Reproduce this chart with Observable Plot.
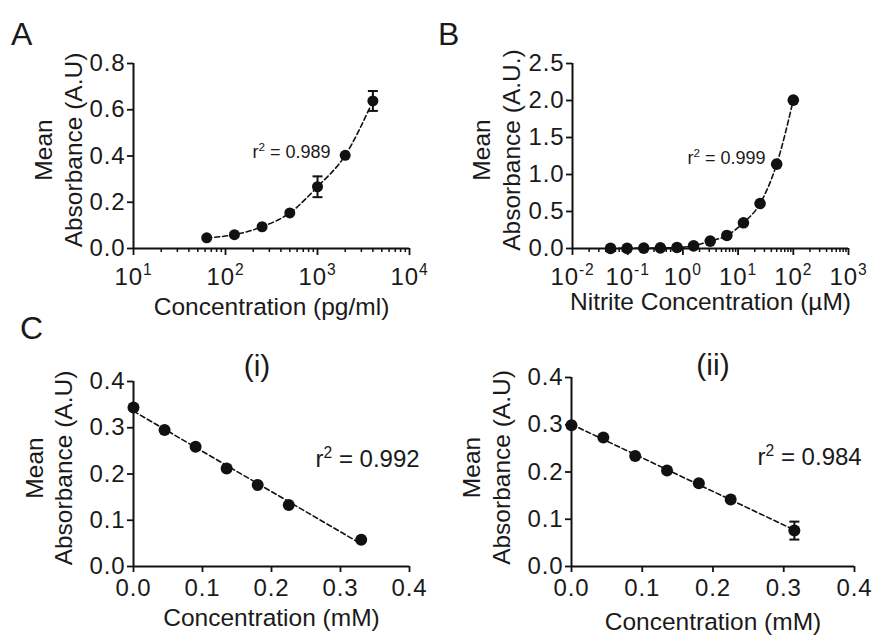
<!DOCTYPE html>
<html>
<head>
<meta charset="utf-8">
<script src="https://cdn.jsdelivr.net/npm/d3@7"></script>
<script src="https://cdn.jsdelivr.net/npm/@observablehq/plot@0.6"></script>
<style>
  body { margin: 0; background: #fff; font-family: "Liberation Sans", Arial, sans-serif; }
  #fig { position: relative; width: 874px; height: 635px; overflow: hidden; background: #fff; }
  .panel { position: absolute; }
  .letter { position: absolute; font-size: 32px; line-height: 1; color: #1a1a1a; }
  .sub { position: absolute; font-size: 30px; line-height: 1; color: #1a1a1a; transform: translateX(-50%); white-space: nowrap; }
  #fig g[aria-label$="tick label"] text { letter-spacing: 0.9px; }
</style>
</head>
<body>
<div id="fig"></div>
<script>
// ---------- Data ----------
// Panel A
const aConc = [62.5, 125, 250, 500, 1000, 2000, 4000];
const aAbs  = [0.046, 0.060, 0.094, 0.154, 0.267, 0.403, 0.638];
const aErr  = [0, 0, 0, 0, 0.045, 0, 0.043];
// Panel B
const bConc = [0.048828125, 0.09765625, 0.1953125, 0.390625, 0.78125, 1.5625, 3.125, 6.25, 12.5, 25, 50, 100];
const bAbs  = [0.002, 0.003, 0.005, 0.008, 0.014, 0.036, 0.100, 0.176, 0.347, 0.608, 1.14, 2.005];
// Panel C (i)
const c1Conc = [0, 0.045, 0.090, 0.135, 0.180, 0.225, 0.330];
const c1Abs  = [0.344, 0.295, 0.259, 0.212, 0.176, 0.133, 0.058];
// Panel C (ii)
const c2Conc = [0, 0.045, 0.090, 0.135, 0.180, 0.225, 0.315];
const c2Abs  = [0.299, 0.273, 0.234, 0.203, 0.176, 0.142, 0.076];
const c2Err  = [0, 0, 0, 0, 0, 0, 0.019];

// Tick values
const aXTicks = [10, 100, 1000, 10000];
const bXTicks = [0.01, 0.1, 1, 10, 100, 1000];
const aYTicks = [0, 0.2, 0.4, 0.6, 0.8];
const bYTicks = [0, 0.5, 1.0, 1.5, 2.0, 2.5];
const cXTicks = [0, 0.1, 0.2, 0.3, 0.4];
const cYTicks = [0, 0.1, 0.2, 0.3, 0.4];
const minorMultipliers = [2, 3, 4, 5, 6, 7, 8, 9];

// Texts
const aXLabel = "Concentration (pg/ml)";
const bXLabel = "Nitrite Concentration (µM)";
const cXLabel = "Concentration (mM)";
const aYLabel = "Mean\nAbsorbance (A.U)";
const bYLabel = "Mean\nAbsorbance (A.U.)";
const cYLabel = "Mean\nAbsorbance (A.U)";
const aR2 = "r^2 = 0.989";
const bR2 = "r^2 = 0.999";
const c1R2 = "r^2 = 0.992";
const c2R2 = "r^2 = 0.984";

// ---------- Helpers ----------
const INK = "#111";
const TEXT = "#1a1a1a";
const pow10Fmt = d => "10^" + Math.round(Math.log10(d));
const decFmt = d3.format(".1f");
const minorOf = decades => decades.slice(0, -1).flatMap(d => minorMultipliers.map(k => d * k));
const capSymbol = { draw(ctx, size) { const w = Math.sqrt(size / Math.PI); ctx.moveTo(-w, 0); ctx.lineTo(w, 0); } };
const rows = (xs, ys, es) => xs.map((x, i) => ({ x, y: ys[i], e: es ? es[i] : 0 }));

function supify(svg) {
  const ns = "http://www.w3.org/2000/svg";
  svg.querySelectorAll("text, tspan").forEach(el => {
    if (el.childNodes.length !== 1 || el.firstChild.nodeType !== 3) return;
    const s = el.textContent;
    const i = s.indexOf("^");
    if (i < 0) return;
    const m = s.slice(i + 1).match(/^(-?\d+)([\s\S]*)$/);
    if (!m) return;
    const fs = parseFloat(getComputedStyle(el).fontSize) || 20;
    el.textContent = "";
    el.setAttribute("xml:space", "preserve");
    const t1 = document.createElementNS(ns, "tspan"); t1.textContent = s.slice(0, i); el.appendChild(t1);
    const t2 = document.createElementNS(ns, "tspan"); t2.textContent = m[1];
    t2.setAttribute("font-size", (fs * 0.65).toFixed(2)); t2.setAttribute("dy", (-fs * 0.38).toFixed(2)); el.appendChild(t2);
    if (m[2]) {
      const t3 = document.createElementNS(ns, "tspan"); t3.textContent = m[2];
      t3.setAttribute("dy", (fs * 0.38).toFixed(2)); el.appendChild(t3);
    }
  });
}

function panel(c) {
  const pts = c.pts;
  const errs = pts.filter(d => d.e > 0);
  const marks = [
    Plot.ruleX([c.xDomain[0]], { stroke: INK, strokeWidth: 2 }),
    Plot.ruleY([c.yDomain[0]], { stroke: INK, strokeWidth: 2 }),
    Plot.axisY({ ticks: c.yTicks, tickFormat: decFmt, tickSize: 6, tickPadding: 2, stroke: INK, strokeWidth: 1.8, fontSize: 24, fill: TEXT, label: null }),
    Plot.axisX({ ticks: c.xTicks, tickFormat: c.xFmt, tickSize: c.xTickSize, tickPadding: c.xTickPad, stroke: INK, strokeWidth: 1.8, fontSize: 24, fill: TEXT, label: null })
  ];
  if (c.xMinor) marks.push(Plot.axisX({ ticks: c.xMinor, tickFormat: () => "", tickSize: 4, stroke: INK, strokeWidth: 1.5, label: null }));
  if (c.fit === "curve") {
    marks.push(Plot.line(pts, { x: "x", y: "y", curve: "monotone-x", stroke: INK, strokeWidth: 1.6, strokeDasharray: "5,3" }));
  } else {
    marks.push(Plot.linearRegressionY(pts, { x: "x", y: "y", ci: 0, stroke: INK, strokeWidth: 1.6, strokeDasharray: "5,3" }));
  }
  if (errs.length) {
    marks.push(Plot.ruleX(errs, { x: "x", y1: d => d.y - d.e, y2: d => d.y + d.e, stroke: INK, strokeWidth: 2 }));
    marks.push(Plot.dot(errs, { x: "x", y: d => d.y + d.e, symbol: capSymbol, r: 5, stroke: INK, strokeWidth: 2, fill: "none" }));
    marks.push(Plot.dot(errs, { x: "x", y: d => d.y - d.e, symbol: capSymbol, r: 5, stroke: INK, strokeWidth: 2, fill: "none" }));
  }
  marks.push(Plot.dot(pts, { x: "x", y: "y", r: c.dotR, fill: INK, stroke: "none" }));
  marks.push(Plot.text([c.r2], { x: "x", y: "y", text: "t", textAnchor: c.r2Anchor, fontSize: c.r2Size, fill: TEXT }));
  marks.push(Plot.text([c.xLabel], { text: d => d, frameAnchor: "bottom", textAnchor: "middle", lineAnchor: "middle", dy: c.xLabelDy, fontSize: 24.5, fill: TEXT }));
  marks.push(Plot.text([c.yLabel], { text: d => d, frameAnchor: "left", textAnchor: "middle", lineAnchor: "middle", rotate: -90, dx: c.yLabelDx, dy: c.yLabelDy, lineHeight: c.yLabelLH, fontSize: 24.5, fill: TEXT }));

  const b = c.box;
  const svg = Plot.plot({
    width: b.width, height: b.height,
    marginTop: b.mt, marginBottom: b.mb, marginLeft: b.ml, marginRight: b.mr,
    style: { fontFamily: "'Liberation Sans', Arial, Helvetica, sans-serif", fontSize: "24px", color: TEXT, background: "transparent", overflow: "visible", maxWidth: "none" },
    x: { type: c.xType, domain: c.xDomain, label: null },
    y: { type: "linear", domain: c.yDomain, label: null },
    marks
  });
  const wrap = document.createElement("div");
  wrap.className = "panel";
  wrap.style.left = b.left + "px"; wrap.style.top = b.top + "px";
  wrap.style.width = b.width + "px"; wrap.style.height = b.height + "px";
  wrap.appendChild(svg);
  document.getElementById("fig").appendChild(wrap);
  supify(svg);
}

panel({
  box: { left: 0, top: 0, width: 437, height: 320, mt: 63, mb: 72, ml: 133, mr: 28 },
  xType: "log", xDomain: [10, 10000], yDomain: [0, 0.8],
  xTicks: aXTicks, xMinor: minorOf(aXTicks), xFmt: pow10Fmt, xTickSize: 7, xTickPad: 12,
  yTicks: aYTicks,
  pts: rows(aConc, aAbs, aErr), fit: "curve", dotR: 5.5,
  r2: { x: 1384, y: 0.415, t: aR2 }, r2Anchor: "end", r2Size: 18,
  xLabel: aXLabel, xLabelDy: 59,
  yLabel: aYLabel, yLabelDx: -76, yLabelDy: -6, yLabelLH: 1.22
});
panel({
  box: { left: 437, top: 0, width: 437, height: 320, mt: 63, mb: 72, ml: 135, mr: 26 },
  xType: "log", xDomain: [0.01, 1000], yDomain: [0, 2.5],
  xTicks: bXTicks, xMinor: minorOf(bXTicks), xFmt: pow10Fmt, xTickSize: 7, xTickPad: 12,
  yTicks: bYTicks,
  pts: rows(bConc, bAbs), fit: "curve", dotR: 5.8,
  r2: { x: 31.3, y: 1.216, t: bR2 }, r2Anchor: "end", r2Size: 18,
  xLabel: bXLabel, xLabelDy: 54,
  yLabel: bYLabel, yLabelDx: -77, yLabelDy: -6, yLabelLH: 1.22
});
panel({
  box: { left: 0, top: 300, width: 437, height: 335, mt: 81, mb: 69, ml: 133, mr: 28 },
  xType: "linear", xDomain: [0, 0.4], yDomain: [0, 0.4],
  xTicks: cXTicks, xMinor: null, xFmt: decFmt, xTickSize: 6, xTickPad: 6,
  yTicks: cYTicks,
  pts: rows(c1Conc, c1Abs), fit: "linear", dotR: 6,
  r2: { x: 0.2638, y: 0.231, t: c1R2 }, r2Anchor: "start", r2Size: 24,
  xLabel: cXLabel, xLabelDy: 52,
  yLabel: cYLabel, yLabelDx: -85, yLabelDy: -6, yLabelLH: 1.16
});
panel({
  box: { left: 437, top: 300, width: 437, height: 335, mt: 77, mb: 69, ml: 134, mr: 20 },
  xType: "linear", xDomain: [0, 0.4], yDomain: [0, 0.4],
  xTicks: cXTicks, xMinor: null, xFmt: decFmt, xTickSize: 6, xTickPad: 6,
  yTicks: cYTicks,
  pts: rows(c2Conc, c2Abs, c2Err), fit: "linear", dotR: 6,
  r2: { x: 0.263, y: 0.231, t: c2R2 }, r2Anchor: "start", r2Size: 24,
  xLabel: cXLabel, xLabelDy: 56,
  yLabel: cYLabel, yLabelDx: -86, yLabelDy: -4.5, yLabelLH: 1.22
});

// Panel letters and sub-titles
const fig = document.getElementById("fig");
[["A", 11, 18, "letter"], ["B", 438, 18, "letter"], ["C", 20, 312, "letter"],
 ["(i)", 257, 351, "sub"], ["(ii)", 713, 350, "sub"]].forEach(([t, l, tp, cls]) => {
  const d = document.createElement("div");
  d.className = cls; d.textContent = t;
  d.style.left = l + "px"; d.style.top = tp + "px";
  fig.appendChild(d);
});
</script>
</body>
</html>
